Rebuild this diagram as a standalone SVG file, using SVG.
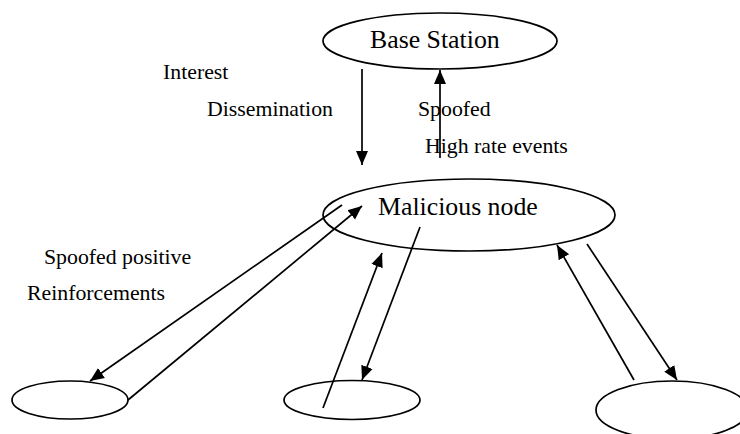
<svg xmlns="http://www.w3.org/2000/svg" width="740" height="434" viewBox="0 0 740 434">
<style>
.n{fill:#fff;stroke:#000;stroke-width:1.7}
.c{stroke:#000;stroke-width:1.7;fill:none}
.t{font-family:"Liberation Serif","Times New Roman",serif;fill:#000}
.big{font-size:25.8px}
.lab{font-size:21.8px}
</style>
<defs>
<marker id="ah" markerUnits="userSpaceOnUse" markerWidth="15" markerHeight="15" viewBox="0 0 15 15" refX="14" refY="7.5" orient="auto">
<path d="M0,1.5 L14,7.5 L0,13.5 Z" fill="#000"/>
</marker>
</defs>
<rect width="740" height="434" fill="#fff"/>
<g id="base-station">
<ellipse class="n" cx="440" cy="41" rx="117" ry="28"/>
<text class="t big" x="370" y="48">Base Station</text>
</g>
<g id="malicious-node">
<ellipse class="n" cx="469" cy="215" rx="146" ry="36"/>
<text class="t big" x="378" y="215">Malicious node</text>
</g>
<g id="node-left">
<ellipse class="n" cx="70" cy="400" rx="58" ry="19"/>
</g>
<g id="node-middle">
<ellipse class="n" cx="352" cy="400" rx="68" ry="19.5"/>
</g>
<g id="node-right">
<ellipse class="n" cx="672" cy="410" rx="76" ry="29"/>
</g>
<g id="connectors">
<line class="c" x1="362" y1="69" x2="362" y2="165" marker-end="url(#ah)"/>
<line class="c" x1="440" y1="158" x2="440" y2="70" marker-end="url(#ah)"/>
<line class="c" x1="342" y1="205" x2="90" y2="381" marker-end="url(#ah)"/>
<line class="c" x1="128" y1="400" x2="362" y2="206" marker-end="url(#ah)"/>
<line class="c" x1="323" y1="408" x2="382" y2="253" marker-end="url(#ah)"/>
<line class="c" x1="420" y1="227" x2="362" y2="380" marker-end="url(#ah)"/>
<line class="c" x1="634" y1="380" x2="557" y2="245" marker-end="url(#ah)"/>
<line class="c" x1="587" y1="244" x2="677" y2="380" marker-end="url(#ah)"/>
</g>
<g id="labels">
<text class="t lab" x="163" y="79">Interest</text>
<text class="t lab" x="207" y="116">Dissemination</text>
<text class="t lab" x="418" y="116">Spoofed</text>
<text class="t lab" x="425" y="153">High rate events</text>
<text class="t lab" x="44" y="264">Spoofed positive</text>
<text class="t lab" x="27" y="300">Reinforcements</text>
</g>
</svg>
